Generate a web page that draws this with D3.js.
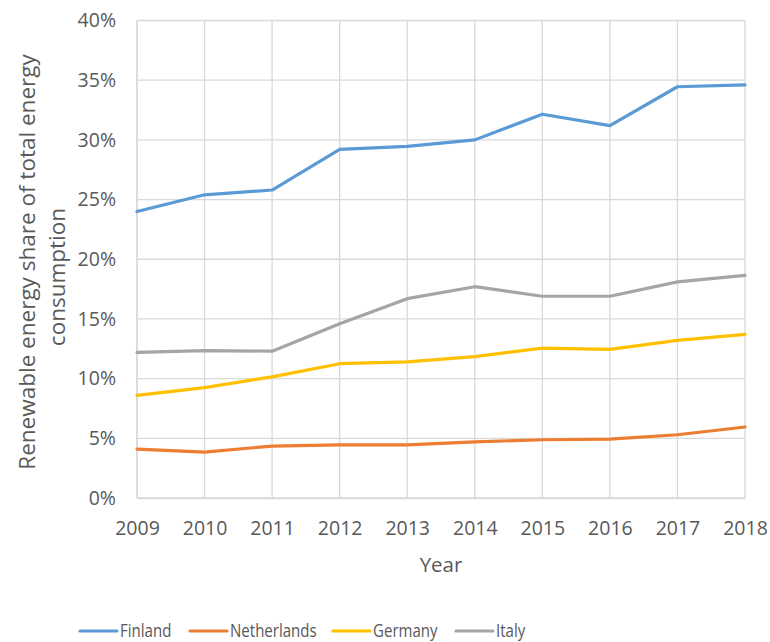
<!DOCTYPE html>
<html>
<head>
<meta charset="utf-8">
<script src="https://cdn.jsdelivr.net/npm/d3@7"></script>
<style>
  body { margin: 0; background: #fff; }
  text { font-family: "Open Sans", sans-serif; fill: #595959; }
</style>
</head>
<body>
<div id="chart"></div>
<script>
const years = [2009, 2010, 2011, 2012, 2013, 2014, 2015, 2016, 2017, 2018]
const finland = [24.0, 25.4, 25.8, 29.2, 29.45, 30.0, 32.15, 31.2, 34.45, 34.6]
const netherlands = [4.1, 3.85, 4.35, 4.45, 4.45, 4.7, 4.88, 4.94, 5.3, 5.95]
const germany = [8.6, 9.25, 10.15, 11.25, 11.4, 11.85, 12.55, 12.45, 13.2, 13.7]
const italy = [12.2, 12.35, 12.3, 14.6, 16.7, 17.7, 16.9, 16.9, 18.1, 18.65]
const yTicks = [0, 5, 10, 15, 20, 25, 30, 35, 40]

const series = [
    {name: 'Finland', values: finland, color: '#5B9BD5'},
    {name: 'Netherlands', values: netherlands, color: '#ED7D31'},
    {name: 'Germany', values: germany, color: '#FFC000'},
    {name: 'Italy', values: italy, color: '#A5A5A5'}
]

const W = 770, H = 642
const margin = {top: 20.5, left: 137, right: 25, bottom: 144}
const width = W - margin.left - margin.right
const height = H - margin.top - margin.bottom
const fontSize = '19.5px'

const svg = d3.select('#chart').append('svg')
    .attr('width', W)
    .attr('height', H)

const g = svg.append('g')
    .attr('transform', `translate(${margin.left}, ${margin.top})`)

const x = d3.scaleLinear().domain([2009, 2018]).range([0, width])
const y = d3.scaleLinear().domain([0, 40]).range([height, 0])

// gridlines
g.append('g').selectAll('line')
    .data(yTicks)
    .join('line')
    .attr('x1', 0).attr('x2', width)
    .attr('y1', d => y(d)).attr('y2', d => y(d))
    .attr('stroke', '#D9D9D9').attr('stroke-width', 1.3)

g.append('g').selectAll('line')
    .data(years)
    .join('line')
    .attr('x1', d => x(d)).attr('x2', d => x(d))
    .attr('y1', 0).attr('y2', height)
    .attr('stroke', '#D9D9D9').attr('stroke-width', 1.3)

// axes
const yAxis = g.append('g')
    .call(d3.axisLeft(y).tickValues(yTicks).tickSize(0).tickPadding(21).tickFormat(d => d + '%'))
yAxis.select('.domain').remove()
yAxis.selectAll('text').style('font-size', fontSize).attr('fill', '#595959')

const xAxis = g.append('g')
    .attr('transform', `translate(0, ${height})`)
    .call(d3.axisBottom(x).tickValues(years).tickSize(0).tickPadding(23).tickFormat(d3.format('d')))
xAxis.select('.domain').attr('stroke', '#D9D9D9').attr('stroke-width', 1.3)
xAxis.selectAll('text').style('font-size', fontSize).attr('fill', '#595959')

g.append('line')
    .attr('x1', 0).attr('x2', 0).attr('y1', 0).attr('y2', height)
    .attr('stroke', '#D9D9D9').attr('stroke-width', 1.3)

// lines
const line = d3.line()
    .x((d, i) => x(years[i]))
    .y(d => y(d))

g.selectAll('path.series')
    .data(series)
    .join('path')
    .attr('class', 'series')
    .attr('d', d => line(d.values))
    .attr('fill', 'none')
    .attr('stroke', d => d.color)
    .attr('stroke-width', 3.2)
    .attr('stroke-linejoin', 'round')
    .attr('stroke-linecap', 'round')

// axis titles
svg.append('text')
    .attr('x', margin.left + width / 2)
    .attr('y', 572)
    .attr('text-anchor', 'middle')
    .style('font-size', '20.5px')
    .text('Year')

const yt = svg.append('text')
    .attr('transform', `rotate(-90)`)
    .attr('text-anchor', 'middle')
    .style('font-size', '22.5px')
yt.append('tspan').attr('x', -262).attr('y', 35).text('Renewable energy share of total energy')
yt.append('tspan').attr('x', -277).attr('y', 65).text('consumption')

// legend
const legendX = [80, 190, 333, 456]
const legend = svg.append('g').selectAll('g')
    .data(series)
    .join('g')
    .attr('transform', (d, i) => `translate(${legendX[i]}, 631)`)
legend.append('line')
    .attr('x1', 0).attr('x2', 37)
    .attr('stroke', d => d.color)
    .attr('stroke-width', 3.2)
    .attr('stroke-linecap', 'round')
legend.append('text')
    .attr('transform', 'translate(40, 0) scale(0.86, 1)')
    .attr('dy', '0.36em')
    .style('font-size', '17.5px')
    .text(d => d.name)
</script>
</body>
</html>
